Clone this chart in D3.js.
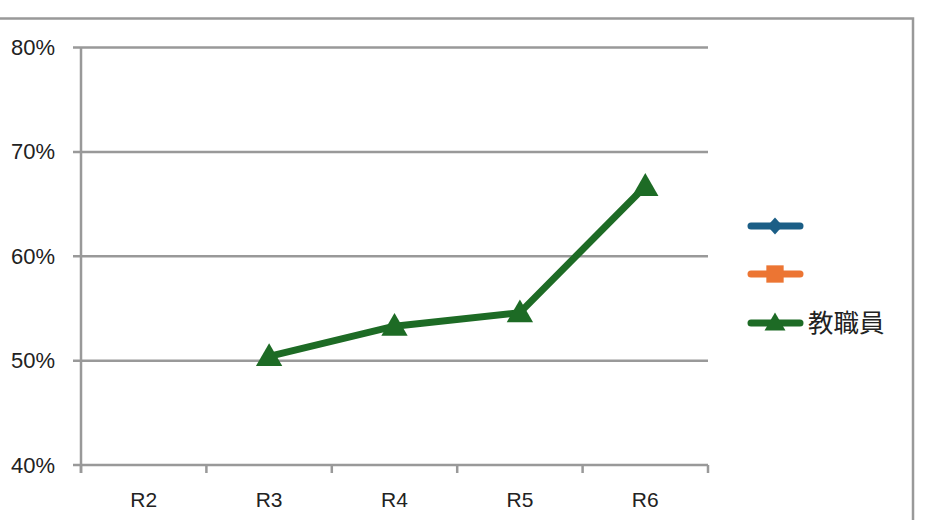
<!DOCTYPE html>
<html>
<head>
<meta charset="utf-8">
<script src="https://cdn.jsdelivr.net/npm/d3@7"></script>
<style>
  html, body { margin: 0; padding: 0; background: #fff; }
  svg { display: block; }
  text { font-family: "Liberation Sans", Arial, sans-serif; fill: #222; }
</style>
</head>
<body>
<svg id="chart" width="928" height="520"></svg>
<script>
const categories = ["R2", "R3", "R4", "R5", "R6"];
const seriesNames = ["", "", "教職員"];
const seriesColors = ["#1b5e86", "#ec7533", "#1d6b25"];
const seriesSymbols = ["diamond", "square", "triangle"];
const staffValues = [null, 0.504, 0.533, 0.546, 0.667];
const seriesValues = [
  [null, null, null, null, null],
  [null, null, null, null, null],
  staffValues
];
const yTicks = [0.4, 0.5, 0.6, 0.7, 0.8];

const svg = d3.select("#chart");
const plot = { left: 81, right: 708, top: 47.5, bottom: 465 };

// outer frame
svg.append("rect")
  .attr("x", -5).attr("y", 18.5)
  .attr("width", 918).attr("height", 520)
  .attr("fill", "none").attr("stroke", "#999").attr("stroke-width", 2.5);

const x = d3.scaleBand().domain(categories).range([plot.left, plot.right]).padding(0);
const y = d3.scaleLinear().domain([0.4, 0.8]).range([plot.bottom, plot.top]);

// gridlines
svg.append("g").selectAll("line").data(yTicks).join("line")
  .attr("x1", plot.left - 8).attr("x2", plot.right)
  .attr("y1", d => y(d)).attr("y2", d => y(d))
  .attr("stroke", "#999").attr("stroke-width", 2.5);

// y axis
const yAxis = d3.axisLeft(y).tickValues(yTicks).tickFormat(d3.format(".0%")).tickSize(0).tickPadding(26);
const gy = svg.append("g").attr("transform", `translate(${plot.left},0)`).call(yAxis);
gy.select(".domain").remove();
gy.selectAll("text").attr("font-size", 22).attr("fill", "#1a1a1a")
  .style("font-family", "'Liberation Sans', Arial, sans-serif");
svg.append("line")
  .attr("x1", plot.left).attr("x2", plot.left)
  .attr("y1", plot.top).attr("y2", plot.bottom + 8)
  .attr("stroke", "#999").attr("stroke-width", 2.5);

// x axis ticks (category boundaries)
const bounds = categories.map(c => x(c)).concat([x(categories[categories.length - 1]) + x.bandwidth()]);
svg.append("g").selectAll("line").data(bounds).join("line")
  .attr("x1", d => d).attr("x2", d => d)
  .attr("y1", plot.bottom).attr("y2", plot.bottom + 8)
  .attr("stroke", "#999").attr("stroke-width", 2.5);
svg.append("g").selectAll("text").data(categories).join("text")
  .attr("x", d => x(d) + x.bandwidth() / 2)
  .attr("y", 507)
  .attr("text-anchor", "middle")
  .attr("font-size", 21)
  .attr("fill", "#1a1a1a")
  .text(d => d);

// symbols
const wideDiamond = {
  draw(ctx, size) {
    const h = Math.sqrt(size) * 0.55, w = h * 0.9;
    ctx.moveTo(0, -h); ctx.lineTo(w, 0); ctx.lineTo(0, h); ctx.lineTo(-w, 0); ctx.closePath();
  }
};
const symType = { diamond: wideDiamond, square: d3.symbolSquare, triangle: d3.symbolTriangle };
const cx = c => x(c) + x.bandwidth() / 2;
const line = d3.line()
  .defined(d => d.v != null)
  .x(d => cx(d.c)).y(d => y(d.v));

seriesValues.forEach((vals, i) => {
  const pts = categories.map((c, j) => ({ c, v: vals[j] }));
  svg.append("path").datum(pts)
    .attr("d", line)
    .attr("fill", "none")
    .attr("stroke", seriesColors[i])
    .attr("stroke-width", 7)
    .attr("stroke-linejoin", "round");
  svg.append("g").selectAll("path").data(pts.filter(d => d.v != null)).join("path")
    .attr("transform", d => `translate(${cx(d.c)},${y(d.v) + 2})`)
    .attr("d", d3.symbol().type(symType[seriesSymbols[i]]).size(300))
    .attr("fill", seriesColors[i]);
});

// legend
const legY = [226, 274, 323];
const lg = svg.append("g");
seriesNames.forEach((name, i) => {
  const g = lg.append("g").attr("transform", `translate(0,${legY[i]})`);
  g.append("line").attr("x1", 751).attr("x2", 800).attr("y1", 0).attr("y2", 0)
    .attr("stroke", seriesColors[i]).attr("stroke-width", 7).attr("stroke-linecap", "round");
  let sz = seriesSymbols[i] === "diamond" ? 240 : seriesSymbols[i] === "square" ? 300 : 190;
  let dy = seriesSymbols[i] === "triangle" ? 1.5 : 0;
  g.append("path")
    .attr("transform", `translate(775,${dy})`)
    .attr("d", d3.symbol().type(symType[seriesSymbols[i]]).size(sz))
    .attr("fill", seriesColors[i]);
  g.append("text").attr("x", 808).attr("y", 9)
    .attr("font-size", 25.5)
    .style("font-family", "'Noto Sans CJK JP', sans-serif")
    .attr("fill", "#333")
    .text(name);
});
</script>
</body>
</html>
